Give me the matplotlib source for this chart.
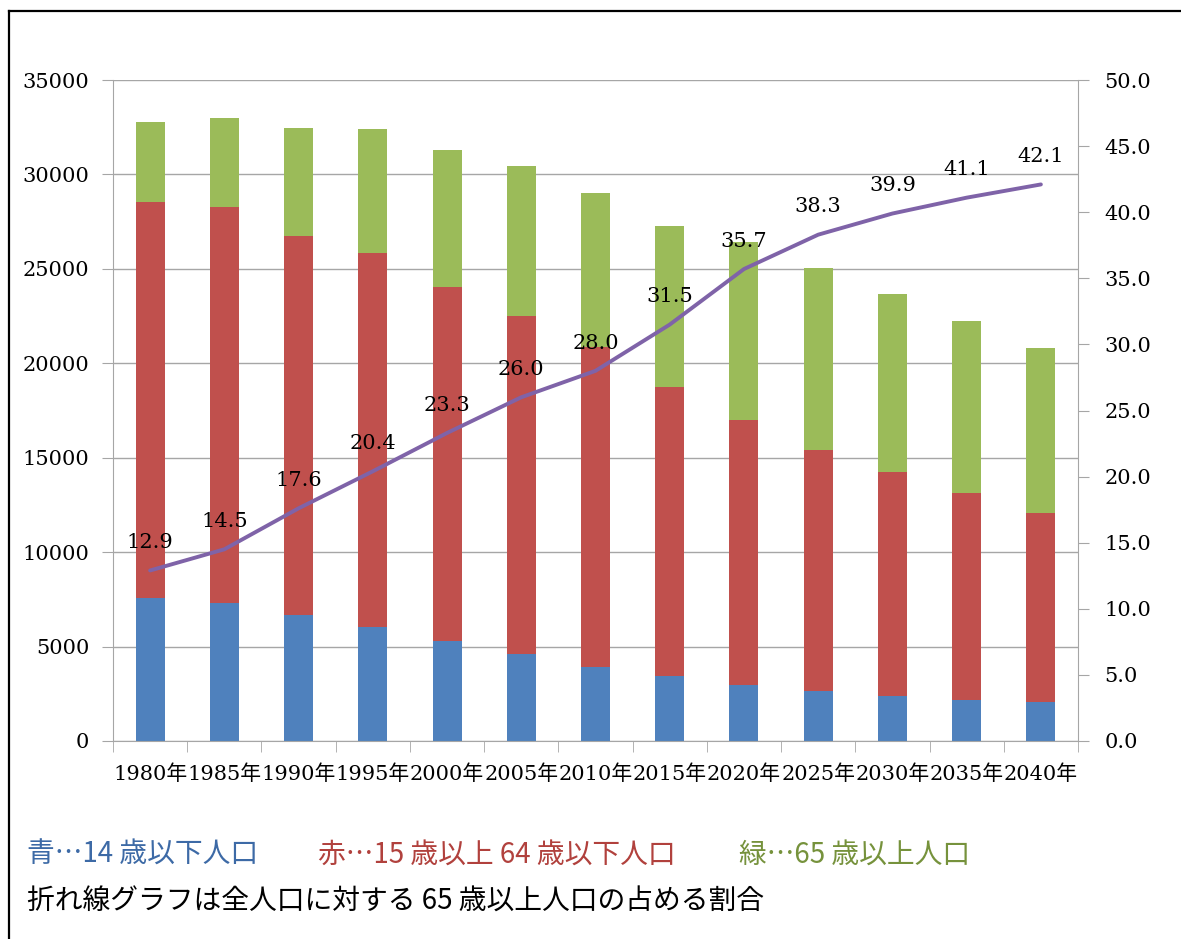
import matplotlib
matplotlib.use('Agg')
import matplotlib.pyplot as plt
from matplotlib.lines import Line2D
import numpy as np

years = ['1980年', '1985年', '1990年', '1995年', '2000年', '2005年', '2010年',
         '2015年', '2020年', '2025年', '2030年', '2035年', '2040年']
# 人口 (千人 approx)
pop_0_14 = [7560, 7300, 6670, 6040, 5300, 4610, 3920, 3440, 2970, 2650, 2390, 2170, 2070]
pop_15_64 = [20980, 20970, 20070, 19800, 18740, 17890, 16940, 15300, 14030, 12760, 11850, 10960, 10000]
pop_65 = [4230, 4720, 5720, 6570, 7250, 7940, 8150, 8530, 9420, 9640, 9430, 9110, 8740]
ratio_65 = [12.9, 14.5, 17.6, 20.4, 23.3, 26.0, 28.0, 31.5, 35.7, 38.3, 39.9, 41.1, 42.1]

serif = ['DejaVu Serif', 'Noto Sans CJK JP']
jp = ['Noto Sans CJK JP', 'DejaVu Sans']
grid_c = '#a6a6a6'

fig = plt.figure(figsize=(11.81, 9.39), dpi=100)
ax = fig.add_axes([113 / 1181, 1 - 741 / 939, (1078 - 113) / 1181, (741 - 80) / 939])

x = np.arange(len(years))
w = 0.39
b1 = np.array(pop_0_14)
b2 = b1 + np.array(pop_15_64)
ax.bar(x, pop_0_14, w, color='#4f81bd', zorder=2)
ax.bar(x, pop_15_64, w, bottom=b1, color='#c0504d', zorder=2)
ax.bar(x, pop_65, w, bottom=b2, color='#9bbb59', zorder=2)

ax.set_xlim(-0.5, len(years) - 0.5)
ax.set_ylim(0, 35000)
ax.set_yticks(range(0, 35001, 5000))
ax.grid(axis='y', color=grid_c, lw=1, zorder=0)
ax.set_axisbelow(True)
ax.set_xticks(x)
ax.set_xticklabels(years, family=serif, fontsize=15)
ax.set_xticks(np.arange(-0.5, len(years)), minor=True)
ax.tick_params(axis='x', which='major', length=0, pad=17)
ax.tick_params(axis='x', which='minor', length=8, color=grid_c, direction='out')
ax.tick_params(axis='y', length=8, color=grid_c, pad=9, labelsize=15)
for lab in ax.get_yticklabels():
    lab.set_family(serif)
for s in ['left', 'bottom', 'right']:
    ax.spines[s].set_color(grid_c)
ax.spines['top'].set_visible(False)

ax2 = ax.twinx()
ax2.set_ylim(0, 50)
ax2.set_yticks(np.arange(0, 50.1, 5))
ax2.set_yticklabels([f'{v:.1f}' for v in np.arange(0, 50.1, 5)], family=serif, fontsize=15)
ax2.tick_params(axis='y', length=8, color=grid_c, pad=11)
for s in ['left', 'bottom', 'right', 'top']:
    ax2.spines[s].set_visible(False)
ax2.plot(x, ratio_65, color='#7f63a8', lw=2.8, solid_capstyle='round', zorder=3)
for xi, v in zip(x, ratio_65):
    ax2.annotate(f'{v:.1f}', (xi, v), xytext=(0, 20), textcoords='offset points',
                 ha='center', va='center', family=serif, fontsize=15, color='black')

# frame lines around the picture
fig.add_artist(Line2D([9 / 1181, 9 / 1181], [0, 1 - 11 / 939], color='black', lw=1.6))
fig.add_artist(Line2D([9 / 1181, 1], [1 - 11 / 939, 1 - 11 / 939], color='black', lw=1.6))

fig.text(27 / 1181, 1 - 855 / 939, '青…14 歳以下人口', family=jp, fontsize=20,
         color='#3d6aa6', va='center')
fig.text(318 / 1181, 1 - 855 / 939, '赤…15 歳以上 64 歳以下人口', family=jp, fontsize=20,
         color='#b1413d', va='center')
fig.text(739 / 1181, 1 - 855 / 939, '緑…65 歳以上人口', family=jp, fontsize=20,
         color='#76923c', va='center')
fig.text(27 / 1181, 1 - 902 / 939, '折れ線グラフは全人口に対する 65 歳以上人口の占める割合',
         family=jp, fontsize=20, color='black', va='center')

fig.savefig('out.png', dpi=100)
